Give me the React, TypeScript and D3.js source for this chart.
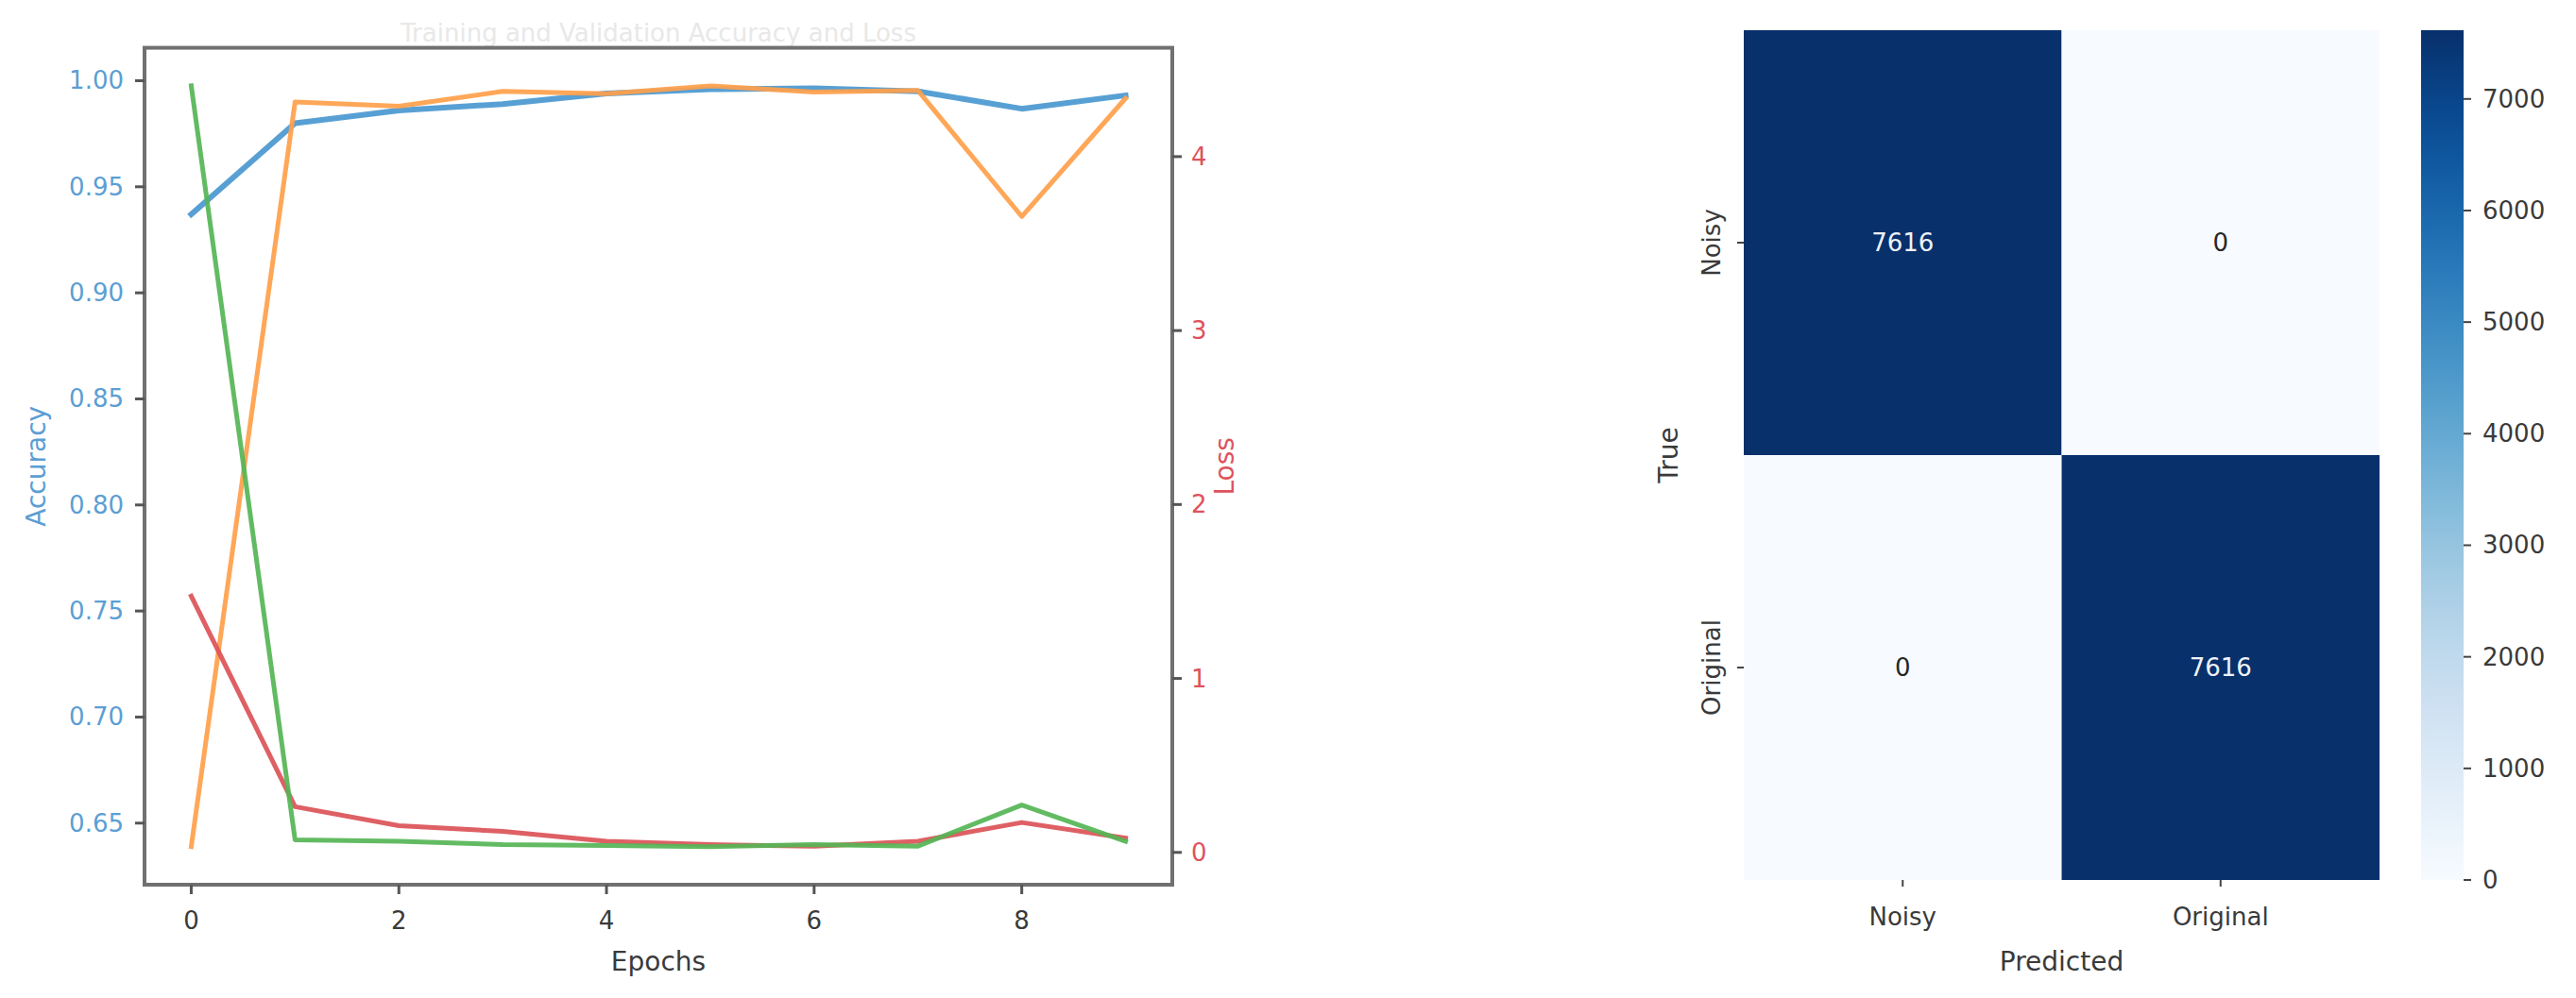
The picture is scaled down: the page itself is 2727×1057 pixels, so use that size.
import React from "react";
import * as d3 from "d3";

// ---------- data ----------
const epochs = [0, 1, 2, 3, 4, 5, 6, 7, 8, 9];
const trainAccuracy = [0.937, 0.98, 0.986, 0.989, 0.994, 0.996, 0.9964, 0.995, 0.9868, 0.9931];
const valAccuracy = [0.6389, 0.99, 0.988, 0.995, 0.9939, 0.9976, 0.9947, 0.9954, 0.936, 0.9917];
const trainLoss = [1.473, 0.263, 0.154, 0.121, 0.064, 0.045, 0.036, 0.064, 0.172, 0.082];
const valLoss = [4.407, 0.072, 0.064, 0.045, 0.04, 0.033, 0.045, 0.036, 0.272, 0.064];
const accTicks = [0.65, 0.7, 0.75, 0.8, 0.85, 0.9, 0.95, 1.0];
const lossTicks = [0, 1, 2, 3, 4];
const epochTicks = [0, 2, 4, 6, 8];

const classLabels = ["Noisy", "Original"];
const confusionRows = [
  [7616, 0],
  [0, 7616],
];
const colorbarTicks = [0, 1000, 2000, 3000, 4000, 5000, 6000, 7000];

const FONT = "DejaVu Sans, sans-serif";
const FS = 26;

function withMargin(vals: number[]): [number, number] {
  const [lo, hi] = d3.extent(vals) as [number, number];
  const m = (hi - lo) * 0.05;
  return [lo - m, hi + m];
}

export default function App() {
  // ---------- left chart ----------
  const L = { left: 153, right: 1241, top: 50.6, bottom: 937 };
  const x = d3.scaleLinear().domain([-0.45, 9.45]).range([L.left, L.right]);
  const yAcc = d3
    .scaleLinear()
    .domain(withMargin([...trainAccuracy, ...valAccuracy]))
    .range([L.bottom, L.top]);
  const yLoss = d3
    .scaleLinear()
    .domain(withMargin([...trainLoss, ...valLoss]))
    .range([L.bottom, L.top]);

  const accLine = d3
    .line<number>()
    .x((_, i) => x(epochs[i]))
    .y((d) => yAcc(d));
  const lossLine = d3
    .line<number>()
    .x((_, i) => x(epochs[i]))
    .y((d) => yLoss(d));

  const series = [
    { d: accLine(trainAccuracy), color: "#4a98d0", w: 6 },
    { d: accLine(valAccuracy), color: "#ffa04a", w: 5 },
    { d: lossLine(trainLoss), color: "#db5358", w: 5 },
    { d: lossLine(valLoss), color: "#55b555", w: 5 },
  ];

  const accFmt = d3.format(".2f");
  const blueText = "#5c9ed3";
  const redText = "#de525c";
  const darkText = "#3a3a3a";

  // ---------- heatmap ----------
  const H = { left: 1846, right: 2519, top: 32, bottom: 932 };
  const hx = d3.scaleBand().domain(classLabels).range([H.left, H.right]);
  const hy = d3.scaleBand().domain(classLabels).range([H.top, H.bottom]);
  const maxVal = d3.max(confusionRows.flat()) as number;
  const color = d3.scaleSequential(d3.interpolateBlues).domain([0, maxVal]);
  const CB = { left: 2563, right: 2608 };
  const cbY = d3.scaleLinear().domain([0, maxVal]).range([H.bottom, H.top]);
  const gradStops = d3.range(0, 1.0001, 0.05);

  return (
    <svg
      width={2727}
      height={1057}
      style={{ position: "fixed", left: 0, top: 0, background: "#fff" }}
      fontFamily={FONT}
    >
      <defs>
        <linearGradient id="cbGrad" x1="0" y1="1" x2="0" y2="0">
          {gradStops.map((t) => (
            <stop key={t} offset={t} stopColor={d3.interpolateBlues(t)} />
          ))}
        </linearGradient>
      </defs>
      <rect x={0} y={0} width={2727} height={1057} fill="#fff" />

      {/* ---------- left: accuracy / loss ---------- */}
      <text
        x={(L.left + L.right) / 2}
        y={35}
        textAnchor="middle"
        dominantBaseline="central"
        fontSize={FS}
        fill="#e8e8e8"
      >
        Training and Validation Accuracy and Loss
      </text>

      <g fill="none" strokeLinejoin="round" strokeLinecap="square">
        {series.map((s, i) => (
          <path key={i} d={s.d ?? ""} stroke={s.color} strokeWidth={s.w} strokeOpacity={0.92} />
        ))}
      </g>

      {/* frame */}
      <rect
        x={L.left}
        y={L.top}
        width={L.right - L.left}
        height={L.bottom - L.top}
        fill="none"
        stroke="#707070"
        strokeWidth={4}
      />

      {/* left ticks */}
      {accTicks.map((t) => (
        <g key={"a" + t}>
          <line x1={L.left - 10} x2={L.left} y1={yAcc(t)} y2={yAcc(t)} stroke="#555" strokeWidth={3} />
          <text
            x={L.left - 22}
            y={yAcc(t)}
            textAnchor="end"
            dominantBaseline="central"
            fontSize={FS}
            fill={blueText}
          >
            {accFmt(t)}
          </text>
        </g>
      ))}
      <text
        transform={`translate(38,${(L.top + L.bottom) / 2}) rotate(-90)`}
        textAnchor="middle"
        dominantBaseline="central"
        fontSize={FS + 2}
        fill={blueText}
      >
        Accuracy
      </text>

      {/* right ticks */}
      {lossTicks.map((t) => (
        <g key={"l" + t}>
          <line x1={L.right} x2={L.right + 10} y1={yLoss(t)} y2={yLoss(t)} stroke="#555" strokeWidth={3} />
          <text
            x={L.right + 20}
            y={yLoss(t)}
            textAnchor="start"
            dominantBaseline="central"
            fontSize={FS}
            fill={redText}
          >
            {t}
          </text>
        </g>
      ))}
      <text
        transform={`translate(1296,${(L.top + L.bottom) / 2}) rotate(-90)`}
        textAnchor="middle"
        dominantBaseline="central"
        fontSize={FS + 2}
        fill={redText}
      >
        Loss
      </text>

      {/* x ticks */}
      {epochTicks.map((t) => (
        <g key={"e" + t}>
          <line x1={x(t)} x2={x(t)} y1={L.bottom} y2={L.bottom + 10} stroke="#555" strokeWidth={3} />
          <text
            x={x(t)}
            y={L.bottom + 38}
            textAnchor="middle"
            dominantBaseline="central"
            fontSize={FS}
            fill={darkText}
          >
            {t}
          </text>
        </g>
      ))}
      <text
        x={(L.left + L.right) / 2}
        y={1018}
        textAnchor="middle"
        dominantBaseline="central"
        fontSize={FS + 2}
        fill={darkText}
      >
        Epochs
      </text>

      {/* ---------- right: confusion matrix ---------- */}
      {confusionRows.map((row, ri) =>
        row.map((v, ci) => (
          <g key={`c${ri}${ci}`}>
            <rect
              x={hx(classLabels[ci])}
              y={hy(classLabels[ri])}
              width={hx.bandwidth()}
              height={hy.bandwidth()}
              fill={color(v)}
            />
            <text
              x={(hx(classLabels[ci]) as number) + hx.bandwidth() / 2}
              y={(hy(classLabels[ri]) as number) + hy.bandwidth() / 2}
              textAnchor="middle"
              dominantBaseline="central"
              fontSize={FS}
              fill={v > maxVal / 2 ? "#eef2f8" : "#262626"}
            >
              {v}
            </text>
          </g>
        ))
      )}

      {classLabels.map((c) => {
        const cx = (hx(c) as number) + hx.bandwidth() / 2;
        const cy = (hy(c) as number) + hy.bandwidth() / 2;
        return (
          <g key={"hl" + c}>
            <line x1={cx} x2={cx} y1={H.bottom} y2={H.bottom + 7} stroke="#444" strokeWidth={2} />
            <text
              x={cx}
              y={971}
              textAnchor="middle"
              dominantBaseline="central"
              fontSize={FS}
              fill={darkText}
            >
              {c}
            </text>
            <line x1={H.left - 7} x2={H.left} y1={cy} y2={cy} stroke="#444" strokeWidth={2} />
            <text
              transform={`translate(1812,${cy}) rotate(-90)`}
              textAnchor="middle"
              dominantBaseline="central"
              fontSize={FS}
              fill={darkText}
            >
              {c}
            </text>
          </g>
        );
      })}
      <text
        transform={`translate(1766,${(H.top + H.bottom) / 2}) rotate(-90)`}
        textAnchor="middle"
        dominantBaseline="central"
        fontSize={FS + 2}
        fill={darkText}
      >
        True
      </text>
      <text
        x={(H.left + H.right) / 2}
        y={1018}
        textAnchor="middle"
        dominantBaseline="central"
        fontSize={FS + 2}
        fill={darkText}
      >
        Predicted
      </text>

      {/* colorbar */}
      <rect
        x={CB.left}
        y={H.top}
        width={CB.right - CB.left}
        height={H.bottom - H.top}
        fill="url(#cbGrad)"
      />
      {colorbarTicks.map((t) => (
        <g key={"cb" + t}>
          <line x1={CB.right} x2={CB.right + 8} y1={cbY(t)} y2={cbY(t)} stroke="#444" strokeWidth={2} />
          <text
            x={CB.right + 20}
            y={cbY(t)}
            textAnchor="start"
            dominantBaseline="central"
            fontSize={FS}
            fill={darkText}
          >
            {t}
          </text>
        </g>
      ))}
    </svg>
  );
}
